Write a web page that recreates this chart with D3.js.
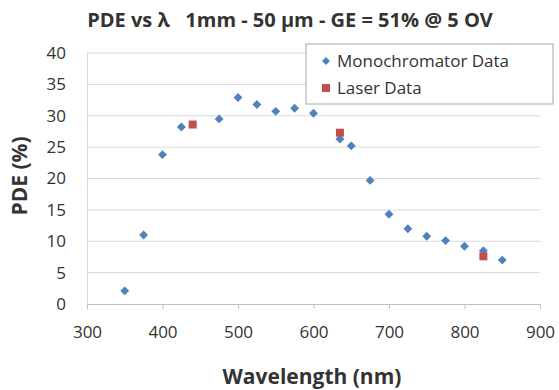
<!DOCTYPE html>
<html>
<head>
<meta charset="utf-8">
<script src="https://cdn.jsdelivr.net/npm/d3@7"></script>
<style>
  body { margin: 0; background: #fff; }
  text { font-family: "Open Sans", "Lato", sans-serif; fill: #333; }
</style>
</head>
<body>
<script>
// monochromator measurements
let monoWavelength = [350, 375, 400, 425, 475, 500, 525, 550, 575, 600, 635, 650, 675, 700, 725, 750, 775, 800, 825, 850];
let monoPDE = [2.1, 11.0, 23.8, 28.2, 29.5, 32.9, 31.8, 30.7, 31.2, 30.4, 26.3, 25.2, 19.7, 14.3, 12.0, 10.8, 10.1, 9.2, 8.5, 7.0];

// laser measurements
let laserWavelength = [440, 635, 825];
let laserPDE = [28.6, 27.3, 7.6];

let xTicks = [300, 400, 500, 600, 700, 800, 900];
let yTicks = [0, 5, 10, 15, 20, 25, 30, 35, 40];

function main() {
    let svg = d3.select("body").append("svg")
        .attr("width", 559)
        .attr("height", 390);

    let xScale = d3.scaleLinear().domain([300, 900]).range([87, 540]);
    let yScale = d3.scaleLinear().domain([0, 40]).range([304, 53]);

    // gridlines
    svg.append("g")
        .selectAll("line")
        .data(yTicks.slice(1))
        .enter()
        .append("line")
        .attr("x1", xScale(300))
        .attr("x2", xScale(900))
        .attr("y1", d => yScale(d))
        .attr("y2", d => yScale(d))
        .attr("stroke", "#d9d9d9")
        .attr("stroke-width", 1);

    let xAxis = d3.axisBottom(xScale).tickValues(xTicks).tickSize(5).tickPadding(17).tickFormat(d => d);
    let gx = svg.append("g")
        .attr("transform", `translate(0,${yScale(0)})`)
        .style("font-size", "17px")
        .call(xAxis);
    gx.select(".domain").attr("stroke", "#bfbfbf");
    gx.selectAll(".tick line").attr("stroke", "#bfbfbf");
    gx.selectAll("text").attr("fill", "#333").style("font-family", "'Open Sans', sans-serif");

    let yAxis = d3.axisLeft(yScale).tickValues(yTicks).tickSize(0).tickPadding(21);
    let gy = svg.append("g")
        .attr("transform", `translate(${xScale(300)},0)`)
        .style("font-size", "17px")
        .call(yAxis);
    gy.select(".domain").attr("stroke", "#d9d9d9");
    gy.selectAll("text").attr("fill", "#333").style("font-family", "'Open Sans', sans-serif");

    // monochromator diamonds
    let diamond = d3.symbol().type(d3.symbolDiamond2).size(50);
    svg.append("g")
        .selectAll("path")
        .data(monoWavelength)
        .enter()
        .append("path")
        .attr("d", diamond)
        .attr("transform", (d, i) => `translate(${xScale(d)},${yScale(monoPDE[i])})`)
        .attr("fill", "#4F81BD");

    // laser squares
    let square = d3.symbol().type(d3.symbolSquare).size(64);
    svg.append("g")
        .selectAll("path")
        .data(laserWavelength)
        .enter()
        .append("path")
        .attr("d", square)
        .attr("transform", (d, i) => `translate(${xScale(d)},${yScale(laserPDE[i])})`)
        .attr("fill", "#C0504D");

    // legend
    let legend = svg.append("g");
    legend.append("rect")
        .attr("x", 306).attr("y", 44)
        .attr("width", 247).attr("height", 60)
        .attr("fill", "#fff")
        .attr("stroke", "#a6a6a6");
    legend.append("path")
        .attr("d", d3.symbol().type(d3.symbolDiamond2).size(40))
        .attr("transform", "translate(326,61)")
        .attr("fill", "#4F81BD");
    legend.append("path")
        .attr("d", d3.symbol().type(d3.symbolSquare).size(64))
        .attr("transform", "translate(326,88)")
        .attr("fill", "#C0504D");
    legend.append("text")
        .attr("x", 337).attr("y", 67)
        .style("font-size", "17px")
        .text("Monochromator Data");
    legend.append("text")
        .attr("x", 337).attr("y", 94)
        .style("font-size", "17px")
        .text("Laser Data");

    // titles
    svg.append("text")
        .attr("x", 290).attr("y", 27)
        .attr("text-anchor", "middle")
        .style("font-size", "20px")
        .style("font-weight", "bold")
        .style("white-space", "pre")
        .text("PDE vs λ   1mm - 50 μm - GE = 51% @ 5 OV");

    svg.append("text")
        .attr("x", 312).attr("y", 384)
        .attr("text-anchor", "middle")
        .style("font-size", "21px")
        .style("font-weight", "bold")
        .text("Wavelength (nm)");

    svg.append("text")
        .attr("transform", "translate(27, 176) rotate(-90)")
        .attr("text-anchor", "middle")
        .style("font-size", "21px")
        .style("font-weight", "bold")
        .text("PDE (%)");
}

main()
</script>
</body>
</html>
